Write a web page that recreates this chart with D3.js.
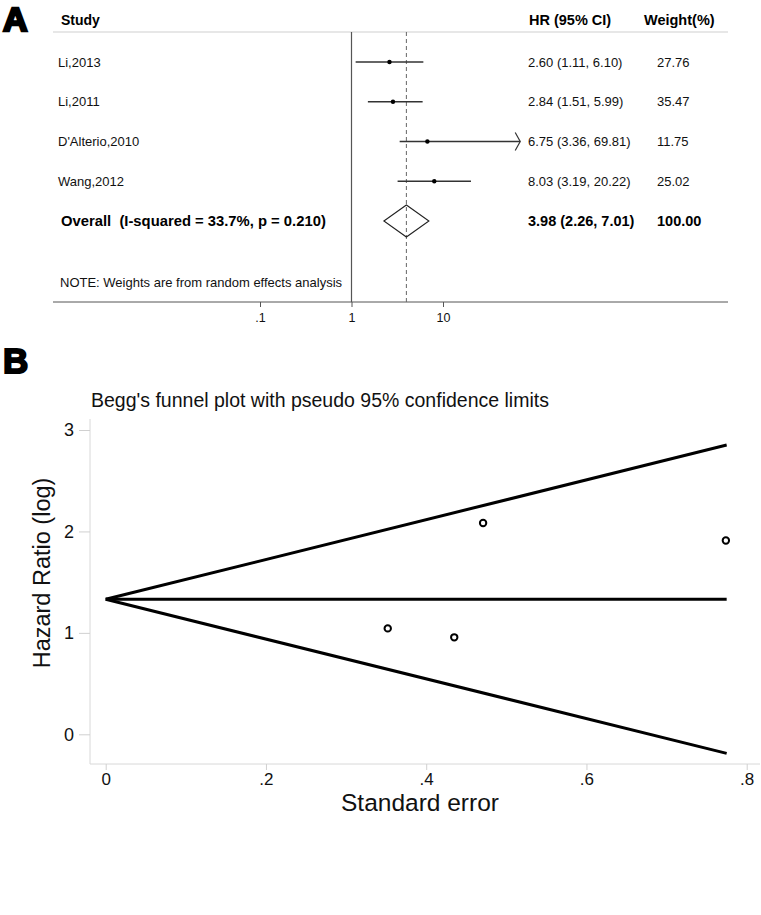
<!DOCTYPE html>
<html>
<head>
<meta charset="utf-8">
<script src="https://cdn.jsdelivr.net/npm/d3@7"></script>
<style>
  html, body { margin: 0; padding: 0; background: #fff; }
  svg { display: block; font-family: "Liberation Sans", Arial, sans-serif; }
  .pre { white-space: pre; }
</style>
</head>
<body>
<svg id="chart" width="761" height="915"></svg>
<script>
// ---------- Panel A data (forest plot) ----------
const studies   = ["Li,2013", "Li,2011", "D'Alterio,2010", "Wang,2012"];
const hr        = [2.60, 2.84, 6.75, 8.03];
const ciLow     = [1.11, 1.51, 3.36, 3.19];
const ciHigh    = [6.10, 5.99, 69.81, 20.22];
const weights   = ["27.76", "35.47", "11.75", "25.02"];
const overallLabel = "Overall  (I-squared = 33.7%, p = 0.210)";
const overallHR = 3.98, overallLow = 2.26, overallHigh = 7.01;
const overallWeight = "100.00";
const forestTicks = [0.1, 1, 10];
const forestTickLabels = [".1", "1", "10"];
const forestMax = 69.81;

// ---------- Panel B data (Begg's funnel plot) ----------
const funnelSE  = [0.435, 0.352, 0.774, 0.471];
const funnelLogHR = [0.956, 1.044, 1.910, 2.083];
const limitSE   = [0, 0.775];
const pooledLine = [1.331, 1.331];
const upperLimit = [1.331, 2.852];
const lowerLimit = [1.331, -0.188];
const funnelXTicks = [0, 0.2, 0.4, 0.6, 0.8];
const funnelXTickLabels = ["0", ".2", ".4", ".6", ".8"];
const funnelYTicks = [0, 1, 2, 3];

const svg = d3.select("#chart");

// ================= Panel A =================
const gA = svg.append("g");
gA.append("text").attr("x", 3).attr("y", 31)
  .attr("font-size", 34).attr("font-weight", 900)
  .attr("stroke", "#000").attr("stroke-width", 2.5)
  .text("A");

const xF = d3.scaleLog().domain([0.1, 10]).range([260, 443]);
const rowY = d3.scalePoint().domain(d3.range(5)).range([62, 221]);
const topY = 32, botY = 302, leftX = 53, rightX = 728;
const colText = 58, colHR = 528, colW = 657;

// header
gA.append("text").attr("x", colText + 3).attr("y", 25).attr("font-size", 14).attr("font-weight", "bold").text("Study");
gA.append("text").attr("x", 529).attr("y", 25).attr("font-size", 14.5).attr("font-weight", "bold").text("HR (95% CI)");
gA.append("text").attr("x", 644).attr("y", 25).attr("font-size", 14.5).attr("font-weight", "bold").text("Weight(%)");
gA.append("line").attr("x1", leftX).attr("x2", rightX).attr("y1", topY).attr("y2", topY)
  .attr("stroke", "#cfcfcf").attr("stroke-width", 1);

// axis line
gA.append("line").attr("x1", leftX).attr("x2", rightX).attr("y1", botY).attr("y2", botY)
  .attr("stroke", "#555").attr("stroke-width", 1);
// null line
gA.append("line").attr("x1", xF(1)).attr("x2", xF(1)).attr("y1", topY).attr("y2", botY)
  .attr("stroke", "#555").attr("stroke-width", 1.2);
// overall dashed line
gA.append("line").attr("x1", xF(overallHR)).attr("x2", xF(overallHR)).attr("y1", topY).attr("y2", botY)
  .attr("stroke", "#666").attr("stroke-width", 1).attr("stroke-dasharray", "4,3");

// ticks
const axA = d3.axisBottom(xF).tickValues(forestTicks)
  .tickFormat((d, i) => forestTickLabels[i]).tickSize(5).tickPadding(6);
const axG = gA.append("g").attr("transform", `translate(0,${botY})`).call(axA);
axG.select(".domain").remove();
axG.selectAll(".tick line").attr("stroke", "#555");
axG.selectAll(".tick text").attr("font-size", 12.5).attr("font-family", "Liberation Sans, Arial, sans-serif").attr("fill", "#111");

// study rows
studies.forEach((s, i) => {
  const y = rowY(i);
  gA.append("text").attr("x", colText).attr("y", y).attr("dy", "0.35em").attr("font-size", 13).attr("fill", "#111").text(s);
  const hi = Math.min(ciHigh[i], forestMax);
  gA.append("line").attr("x1", xF(ciLow[i])).attr("x2", xF(hi)).attr("y1", y).attr("y2", y)
    .attr("stroke", "#333").attr("stroke-width", 1.3);
  gA.append("circle").attr("cx", xF(hr[i])).attr("cy", y).attr("r", 2.2).attr("fill", "#000");
  gA.append("text").attr("x", colHR).attr("y", y).attr("dy", "0.35em").attr("font-size", 13).attr("fill", "#111")
    .text(`${hr[i].toFixed(2)} (${ciLow[i].toFixed(2)}, ${ciHigh[i].toFixed(2)})`);
  gA.append("text").attr("x", colW).attr("y", y).attr("dy", "0.35em").attr("font-size", 13).attr("fill", "#111").text(weights[i]);
  if (ciHigh[i] >= forestMax) {
    const tx = xF(hi);
    gA.append("path").attr("d", `M${tx - 5},${y - 9} L${tx},${y} L${tx - 5},${y + 9}`)
      .attr("fill", "none").attr("stroke", "#333").attr("stroke-width", 1.2);
  }
});

// overall row
const yO = rowY(4);
gA.append("text").attr("class", "pre").attr("xml:space", "preserve")
  .attr("x", colText + 3).attr("y", yO).attr("dy", "0.35em").attr("font-size", 14.8).attr("font-weight", "bold").text(overallLabel);
gA.append("path")
  .attr("d", `M${xF(overallLow)},${yO} L${xF(overallHR)},${yO - 16} L${xF(overallHigh)},${yO} L${xF(overallHR)},${yO + 16} Z`)
  .attr("fill", "none").attr("stroke", "#222").attr("stroke-width", 1.1);
gA.append("text").attr("x", colHR).attr("y", yO).attr("dy", "0.35em").attr("font-size", 14.5).attr("font-weight", "bold")
  .text(`${overallHR.toFixed(2)} (${overallLow.toFixed(2)}, ${overallHigh.toFixed(2)})`);
gA.append("text").attr("x", colW).attr("y", yO).attr("dy", "0.35em").attr("font-size", 14.5).attr("font-weight", "bold").text(overallWeight);

// note
gA.append("text").attr("x", colText + 2).attr("y", 282).attr("dy", "0.35em").attr("font-size", 13).attr("fill", "#111")
  .text("NOTE: Weights are from random effects analysis");

// ================= Panel B =================
const gB = svg.append("g");
gB.append("text").attr("x", 3).attr("y", 373)
  .attr("font-size", 35).attr("font-weight", 900)
  .attr("stroke", "#000").attr("stroke-width", 2)
  .text("B");

gB.append("text").attr("x", 91).attr("y", 407).attr("font-size", 19.5).attr("fill", "#111")
  .text("Begg's funnel plot with pseudo 95% confidence limits");

const xB = d3.scaleLinear().domain([0, 0.8]).range([105.7, 746.7]);
const yB = d3.scaleLinear().domain([0, 3]).range([734.3, 430]);
const axisLeftX = 90, axisBotY = 764;

// axis lines
gB.append("line").attr("x1", axisLeftX).attr("x2", axisLeftX).attr("y1", 419).attr("y2", axisBotY)
  .attr("stroke", "#d8d8d8").attr("stroke-width", 1);
gB.append("line").attr("x1", axisLeftX).attr("x2", 760).attr("y1", axisBotY).attr("y2", axisBotY)
  .attr("stroke", "#d8d8d8").attr("stroke-width", 1);

const yAx = d3.axisLeft(yB).tickValues(funnelYTicks).tickFormat(d3.format("d")).tickSize(11).tickPadding(5);
const yG = gB.append("g").attr("transform", `translate(${axisLeftX},0)`).call(yAx);
yG.select(".domain").remove();
yG.selectAll(".tick line").attr("stroke", "#d0d0d0");
yG.selectAll(".tick text").attr("font-size", 18).attr("font-family", "Liberation Sans, Arial, sans-serif").attr("fill", "#111");

const xAx = d3.axisBottom(xB).tickValues(funnelXTicks).tickFormat((d, i) => funnelXTickLabels[i]).tickSize(6).tickPadding(3);
const xG = gB.append("g").attr("transform", `translate(0,${axisBotY})`).call(xAx);
xG.select(".domain").remove();
xG.selectAll(".tick line").attr("stroke", "#d0d0d0");
xG.selectAll(".tick text").attr("font-size", 17).attr("font-family", "Liberation Sans, Arial, sans-serif").attr("fill", "#111");

// axis titles
gB.append("text").attr("transform", "translate(50,573) rotate(-90)").attr("text-anchor", "middle")
  .attr("font-size", 23.5).attr("fill", "#111").text("Hazard Ratio (log)");
gB.append("text").attr("x", 420).attr("y", 811).attr("text-anchor", "middle")
  .attr("font-size", 24.5).attr("fill", "#111").text("Standard error");

// funnel lines
const line = d3.line().x(d => xB(d[0])).y(d => yB(d[1]));
[pooledLine, upperLimit, lowerLimit].forEach(vals => {
  gB.append("path").datum(limitSE.map((s, i) => [s, vals[i]])).attr("d", line)
    .attr("fill", "none").attr("stroke", "#000").attr("stroke-width", 3);
});

// study points
gB.selectAll("circle.pt").data(funnelSE.map((s, i) => [s, funnelLogHR[i]])).enter()
  .append("circle").attr("class", "pt")
  .attr("cx", d => xB(d[0])).attr("cy", d => yB(d[1])).attr("r", 3.2)
  .attr("fill", "none").attr("stroke", "#000").attr("stroke-width", 2);
</script>
</body>
</html>
